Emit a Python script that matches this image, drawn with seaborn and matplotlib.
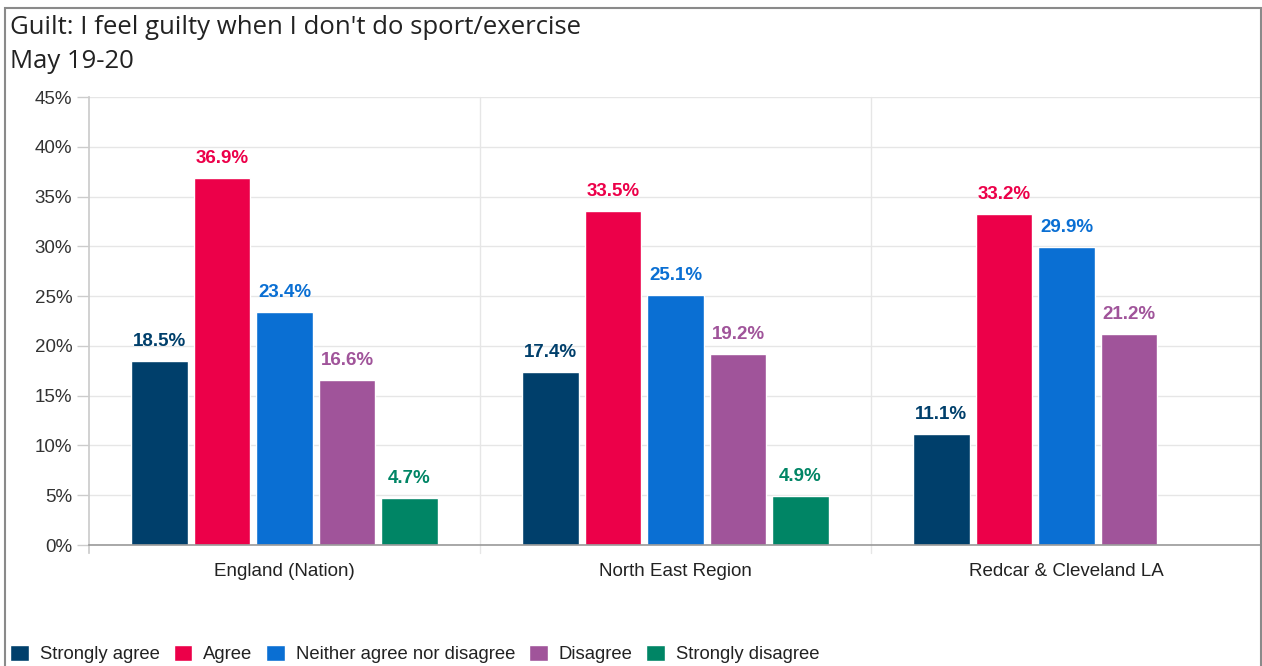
import matplotlib
matplotlib.use("Agg")
import matplotlib.pyplot as plt
from matplotlib.patches import Rectangle
import seaborn as sns
import pandas as pd
import numpy as np

categories = ["England (Nation)", "North East Region", "Redcar & Cleveland LA"]
responses = ["Strongly agree", "Agree", "Neither agree nor disagree", "Disagree", "Strongly disagree"]
strongly_agree = [18.5, 17.4, 11.1]
agree = [36.9, 33.5, 33.2]
neither = [23.4, 25.1, 29.9]
disagree = [16.6, 19.2, 21.2]
strongly_disagree = [4.7, 4.9, np.nan]
colors = ["#003F6B", "#EC0049", "#0A6FD3", "#A0549A", "#008565"]
yticks = [0, 5, 10, 15, 20, 25, 30, 35, 40, 45]

series = [strongly_agree, agree, neither, disagree, strongly_disagree]
rows = []
for resp, vals in zip(responses, series):
    for cat, v in zip(categories, vals):
        rows.append({"Area": cat, "Response": resp, "Value": v})
df = pd.DataFrame(rows)

sns.set_theme(style="white")
plt.rcParams["font.family"] = ["Liberation Sans", "DejaVu Sans"]

W, H = 1262, 666
fig = plt.figure(figsize=(W / 100, H / 100), dpi=100)
ax = fig.add_axes([89 / W, 121 / H, (1262 - 89) / W, (545 - 97) / H])

sns.barplot(data=df, x="Area", y="Value", hue="Response", order=categories,
            hue_order=responses, palette=colors, width=0.8, gap=0.1,
            saturation=1, ax=ax, legend=False, errorbar=None)

ax.set_xlim(-0.5, 2.5)
ax.set_ylim(0, 45)
ax.set_yticks(yticks)
ax.set_yticklabels([f"{t}%" for t in yticks], fontsize=13.5, color="#333333")
ax.tick_params(axis="y", length=9, width=1, color="#cccccc", pad=3, left=True)
ax.tick_params(axis="x", length=0, pad=13, labelsize=13.5, labelcolor="#222222")
ax.set_xlabel("")
ax.set_ylabel("")
ax.grid(axis="y", color="#e6e6e6", linewidth=1)
ax.set_axisbelow(True)
for s in ["top", "right"]:
    ax.spines[s].set_visible(False)
ax.spines["left"].set_color("#cccccc")
ax.spines["left"].set_bounds(-0.8, 45)
ax.spines["bottom"].set_color("#999999")
ax.spines["bottom"].set_linewidth(1.2)

# group separators
for xs in [0.5, 1.5, 2.5]:
    ax.plot([xs, xs], [-0.8, 45], color="#e6e6e6", lw=1, clip_on=False, zorder=0)

# value labels
for container, col in zip(ax.containers, colors):
    labels = [("" if np.isnan(v) else f"{v:.1f}%") for v in container.datavalues]
    ax.bar_label(container, labels=labels, padding=8, color=col,
                 fontsize=13.5, fontweight="bold")

fig.text(10 / W, 1 - 28 / H, "Guilt: I feel guilty when I don't do sport/exercise",
         fontsize=18.5, family=["Open Sans", "DejaVu Sans"], color="#222222", va="center")
fig.text(10 / W, 1 - 62 / H, "May 19-20", fontsize=18.5, family=["Open Sans", "DejaVu Sans"],
         color="#222222", va="center")

handles = [Rectangle((0, 0), 1, 1, facecolor=c) for c in colors]
fig.legend(handles, responses, loc="center left", bbox_to_anchor=(3 / W, 1 - 654 / H),
           ncol=5, frameon=False, fontsize=13.3, handlelength=1.0, handleheight=1.0,
           handletextpad=0.6, columnspacing=0.75, borderaxespad=0, labelcolor="#222222")

fig.patches.append(Rectangle((5 / W, -0.1), (1261 - 5) / W, 1.1 - 8 / H,
                             transform=fig.transFigure, fill=False,
                             edgecolor="#8a8a8a", linewidth=1.5))

fig.savefig("out.png", dpi=100, facecolor="white")
